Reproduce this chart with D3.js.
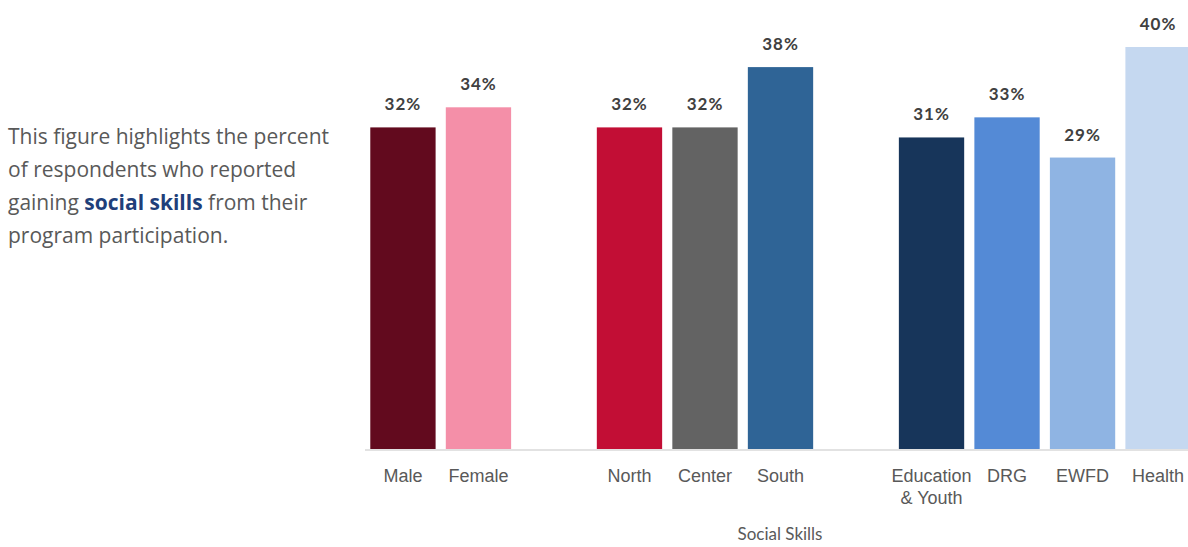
<!DOCTYPE html>
<html>
<head>
<meta charset="utf-8">
<script src="https://cdn.jsdelivr.net/npm/d3@7"></script>
<style>
  html, body { margin:0; padding:0; background:#fff; }
  svg { display:block; font-family: Lato, "Open Sans", sans-serif; }
</style>
</head>
<body>
<svg id="chart" width="1188" height="547"></svg>
<script>
'use strict';
// slots include two empty spacers between groups
const slots = ['Male','Female','gap1','North','Center','South','gap2','Education & Youth','DRG','EWFD','Health'];
const categories = ['Male','Female','North','Center','South','Education & Youth','DRG','EWFD','Health'];
const values = [32, 34, 32, 32, 38, 31, 33, 29, 40];
const barColors = ['#620a1e','#f48fa8','#c20e35','#636363','#2f6496','#17355a','#548ad6','#8fb4e3','#c5d8f0'];
const introLines = [
  [['This figure highlights the percent', false]],
  [['of respondents who reported', false]],
  [['gaining ', false], ['social skills', true], [' from their', false]],
  [['program participation.', false]]
];
const axisTitle = 'Social Skills';

function renderChart() {
  const svg = d3.select('#chart');
  const x = d3.scaleBand().domain(slots).range([365, 1196]).paddingInner(0.135).paddingOuter(0.07);
  const y = d3.scaleLinear().domain([0, 40]).range([449, 47]);
  const data = categories.map((c, i) => ({ cat:c, val:values[i], color:barColors[i] }));

  // intro text
  const intro = svg.append('g');
  introLines.forEach((parts, i) => {
    const t = intro.append('text').attr('x', 8).attr('y', 144 + i*33)
      .style('font-family','"Open Sans", sans-serif').style('font-size','21px').attr('fill','#595959');
    parts.forEach(([s, b]) => {
      t.append('tspan').text(s)
        .attr('font-weight', b ? 'bold' : 'normal')
        .attr('fill', b ? '#1f3f7a' : '#595959');
    });
  });

  svg.append('g').selectAll('rect').data(data).join('rect')
    .attr('x', d => x(d.cat)).attr('width', x.bandwidth())
    .attr('y', d => y(d.val)).attr('height', d => y(0) - y(d.val))
    .attr('fill', d => d.color);

  svg.append('g').selectAll('text').data(data).join('text')
    .attr('x', d => x(d.cat) + x.bandwidth()/2).attr('y', d => y(d.val) - 17)
    .attr('text-anchor','middle').attr('font-weight','bold')
    .style('font-size','17px').style('letter-spacing','1px').attr('fill','#404040')
    .text(d => d.val + '%');

  const axis = svg.append('g').attr('transform', `translate(0,${y(0)+1})`)
    .call(d3.axisBottom(x).tickValues(categories).tickSize(0).tickPadding(0));
  axis.select('.domain').attr('d', 'M365,0H1188').attr('stroke','#d9d9d9').attr('stroke-width',1.5);
  axis.selectAll('.tick text').attr('fill','#595959').style('font-size','18px').attr('dy', null).attr('y', 0)
    .each(function(d) {
      const t = d3.select(this); t.text(null);
      const lines = d === 'Education & Youth' ? ['Education', '& Youth'] : [d];
      lines.forEach((l, i) => t.append('tspan').attr('x', 0).attr('y', 32 + i*22).text(l));
    });

  svg.append('text').attr('x', 780).attr('y', 540).attr('text-anchor','middle')
    .style('font-size','17px').attr('fill','#595959').text(axisTitle);
}
renderChart();
</script>
</body>
</html>
